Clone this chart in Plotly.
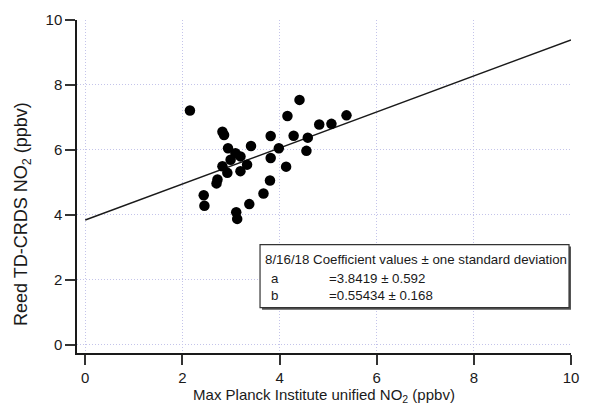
import plotly.graph_objects as go

# Scatter data (Max Planck unified NO2 vs Reed TD-CRDS NO2), ppbv
mpi_no2 = [2.155, 2.824, 2.858, 3.412, 2.939, 3.093, 3.195, 3.331, 2.992, 2.824,
           2.925, 3.195, 2.722, 2.702, 2.439, 2.453, 3.377, 3.108, 3.128, 3.669,
           3.803, 3.817, 4.135, 3.985, 3.817, 4.290, 4.162, 4.411, 4.581, 4.553,
           4.817, 5.068, 5.378]
reed_no2 = [7.215, 6.559, 6.456, 6.122, 6.052, 5.900, 5.800, 5.545, 5.697, 5.497,
            5.293, 5.345, 5.090, 4.968, 4.604, 4.282, 4.330, 4.078, 3.875, 4.655,
            5.059, 5.749, 5.484, 6.052, 6.426, 6.438, 7.045, 7.540, 6.377, 5.970,
            6.781, 6.802, 7.063]

# Fit coefficients
coef_a = 3.8419
coef_a_sd = 0.592
coef_b = 0.55434
coef_b_sd = 0.168
fit_x = [0, 10]
fit_y = [coef_a + coef_b * v for v in fit_x]

tick_vals = [0, 2, 4, 6, 8, 10]
tick_text = ["0", "2", "4", "6", "8", "10"]

FONT = "Liberation Sans, Arial, Helvetica, sans-serif"
TXT = "#1a1a1a"

fig = go.Figure()
fig.add_trace(go.Scatter(x=fit_x, y=fit_y, mode="lines",
                         line=dict(color="#1a1a1a", width=1.4), showlegend=False,
                         hoverinfo="skip"))
fig.add_trace(go.Scatter(x=mpi_no2, y=reed_no2, mode="markers",
                         marker=dict(color="black", size=10.5, line=dict(width=0)),
                         showlegend=False))

axis_common = dict(
    showline=True, linecolor="#1a1a1a", linewidth=1.5,
    ticks="outside", ticklen=10, tickwidth=1.5, tickcolor="#333333",
    showgrid=True, gridcolor="#c4c4ea", griddash="1px,2px", gridwidth=1,
    zeroline=False, tickvals=tick_vals, ticktext=tick_text,
    tickfont=dict(family=FONT, size=15, color=TXT),
    mirror=False,
)

fig.update_layout(
    width=590, height=415,
    margin=dict(l=77, r=11, t=15, b=62),
    plot_bgcolor="white", paper_bgcolor="white",
    font=dict(family=FONT, color=TXT),
    xaxis=dict(range=[-0.17, 10.0], **axis_common,
               title=dict(text="Max Planck Institute unified NO<sub>2</sub> (ppbv)",
                          font=dict(family=FONT, size=15, color=TXT), standoff=2)),
    yaxis=dict(range=[-0.255, 10.0], **axis_common),
)

# Coefficient box
def px_x(p):
    return (p - 77) / 502.0

def px_y(p):
    return 1 - (p - 15) / 338.0

# Y-axis title (placed as rotated annotation to match the reference's offset)
fig.add_annotation(text="Reed TD-CRDS NO<sub>2</sub> (ppbv)", xref="paper", yref="paper",
                   x=px_x(21), y=px_y(212), xanchor="center", yanchor="middle",
                   textangle=-90, showarrow=False,
                   font=dict(family=FONT, size=18, color=TXT))

fig.add_shape(type="rect", xref="paper", yref="paper",
              x0=px_x(265), x1=px_x(579), y0=px_y(309), y1=px_y(245),
              fillcolor="#555555", line=dict(width=0))
fig.add_shape(type="rect", xref="paper", yref="paper",
              x0=px_x(263), x1=px_x(577), y0=px_y(307), y1=px_y(243),
              fillcolor="white", line=dict(color="#333333", width=1.2))

rows = [
    ("8/16/18 Coefficient values \u00b1 one standard deviation", 266, 258),
    ("a", 272, 277),
    ("=%.4f \u00b1 %.3f" % (coef_a, coef_a_sd), 331, 277),
    ("b", 272, 295),
    ("=%.5f \u00b1 %.3f" % (coef_b, coef_b_sd), 331, 295),
]
for text, xp, yp in rows:
    fig.add_annotation(text=text, xref="paper", yref="paper",
                       x=px_x(xp), y=px_y(yp), xanchor="left", yanchor="middle",
                       showarrow=False, font=dict(family=FONT, size=13.3, color=TXT))

fig.write_html("out.html")
